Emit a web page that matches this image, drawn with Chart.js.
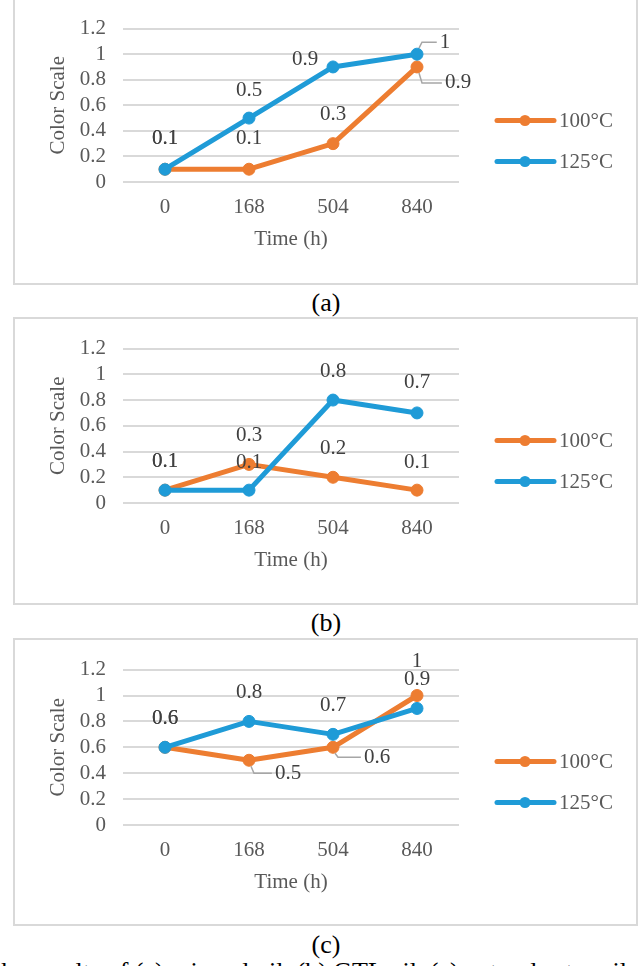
<!DOCTYPE html>
<html>
<head>
<meta charset="utf-8">
<title>Color Scale vs Time</title>
<script src="https://cdn.jsdelivr.net/npm/chart.js@4"></script>
<style>
  body { margin: 0; background: #fff; width: 643px; height: 966px; overflow: hidden; position: relative; font-family: "Liberation Serif", "Times New Roman", serif; }
  .panel { position: absolute; left: 13px; width: 625px; height: 288px; border: 2px solid #d9d9d9; box-sizing: border-box; background: #fff; }
  .panel canvas { display: block; }
  .cap { position: absolute; left: 326px; transform: translateX(-50%); font-size: 26px; line-height: 26px; color: #000; white-space: nowrap; }
  .foot { position: absolute; left: -6px; top: 959px; font-size: 26px; line-height: 26px; color: #000; white-space: nowrap; }
</style>
</head>
<body>

<div class="panel" style="top:-3px"><canvas id="chartA"></canvas></div>
<div class="cap" style="top:290px">(a)</div>

<div class="panel" style="top:317px"><canvas id="chartB"></canvas></div>
<div class="cap" style="top:610px">(b)</div>

<div class="panel" style="top:638px"><canvas id="chartC"></canvas></div>
<div class="cap" style="top:932px">(c)</div>

<div class="foot">the results of (a) mineral oil, (b) GTL oil, (c) natural ester oil</div>

<script>
// ---- DATA ----
const categories = ["0", "168", "504", "840"];
const seriesNames = ["100°C", "125°C"];
const yTickValues = [0, 0.2, 0.4, 0.6, 0.8, 1, 1.2];

// (a)
const a100 = [0.1, 0.1, 0.3, 0.9];
const a125 = [0.1, 0.5, 0.9, 1];
// (b)
const b100 = [0.1, 0.3, 0.2, 0.1];
const b125 = [0.1, 0.1, 0.8, 0.7];
// (c)
const c100 = [0.6, 0.5, 0.6, 1];
const c125 = [0.6, 0.8, 0.7, 0.9];

const COLORS = ["#ED7D31", "#1F9BD7"];
const FONT = "'Liberation Serif', 'Times New Roman', serif";

// label offsets from the point: [dx, dy, leader line]
const panels = [
  { id: "chartA", series: [a100, a125], top: 25, bottom: 183,
    labelPos: [
      [[0, -31], [0, -31], [0, -29], [41, 16, 1]],
      [[0, -31], [0, -28], [-28, -7], [28, -12, 1]]
    ] },
  { id: "chartB", series: [b100, b125], top: 28, bottom: 184,
    labelPos: [
      [[0, -29], [0, -29], [0, -29], [0, -28]],
      [[0, -29], [0, -28], [0, -29], [0, -30]]
    ] },
  { id: "chartC", series: [c100, c125], top: 28, bottom: 185,
    labelPos: [
      [[0, -29], [39, 13, 1], [44, 10, 1], [0, -34]],
      [[0, -29], [0, -29], [0, -29], [0, -29]]
    ] }
];

// value labels next to each point
const valueLabels = {
  id: "valueLabels",
  afterDatasetsDraw(chart, args, opts) {
    const ctx = chart.ctx;
    ctx.save();
    ctx.font = "21px " + FONT;
    ctx.textAlign = "center";
    ctx.textBaseline = "middle";
    chart.data.datasets.forEach((ds, di) => {
      const meta = chart.getDatasetMeta(di);
      meta.data.forEach((pt, i) => {
        const p = opts.pos[di][i];
        const text = String(ds.data[i]);
        const lx = pt.x + p[0], ly = pt.y + p[1];
        if (p[2]) {
          const w = ctx.measureText(text).width;
          ctx.strokeStyle = "#a6a6a6";
          ctx.lineWidth = 1.5;
          ctx.beginPath();
          ctx.moveTo(pt.x + 2, pt.y + Math.sign(p[1]) * 6);
          ctx.lineTo(pt.x + 5, ly);
          ctx.lineTo(lx - w / 2 - 3, ly);
          ctx.stroke();
        }
        ctx.fillStyle = "#404040";
        ctx.fillText(text, lx, ly);
      });
    });
    ctx.restore();
  }
};

// legend on the right: line with a marker in the middle
const sideLegend = {
  id: "sideLegend",
  afterDraw(chart) {
    const ctx = chart.ctx;
    const x0 = chart.chartArea.right;
    const cy = chart.height / 2;
    ctx.save();
    chart.data.datasets.forEach((ds, i) => {
      const y = cy + (i - 0.5) * 41;
      ctx.strokeStyle = ds.borderColor;
      ctx.lineWidth = 5;
      ctx.lineCap = "round";
      ctx.beginPath();
      ctx.moveTo(x0 + 38, y);
      ctx.lineTo(x0 + 95, y);
      ctx.stroke();
      ctx.fillStyle = ds.borderColor;
      ctx.beginPath();
      ctx.arc(x0 + 66, y, 5.5, 0, Math.PI * 2);
      ctx.fill();
      ctx.fillStyle = "#595959";
      ctx.font = "21px " + FONT;
      ctx.textAlign = "left";
      ctx.textBaseline = "middle";
      ctx.fillText(ds.label, x0 + 100, y + 1);
    });
    ctx.restore();
  }
};

panels.forEach(pn => {
  const ctx = document.getElementById(pn.id);

  new Chart(ctx, {
    type: "line",
    data: {
      labels: categories,
      datasets: pn.series.map((vals, i) => ({
        label: seriesNames[i],
        data: vals,
        borderColor: COLORS[i],
        backgroundColor: COLORS[i],
        borderWidth: 5,
        borderJoinStyle: "round",
        borderCapStyle: "round",
        pointRadius: 6,
        pointBackgroundColor: COLORS[i],
        pointBorderColor: COLORS[i],
        pointBorderWidth: 1,
        tension: 0,
        order: i === 0 ? 1 : 0
      }))
    },
    options: {
      responsive: true,
      maintainAspectRatio: false,
      animation: false,
      events: [],
      layout: {
        padding: { left: 20, right: 177, top: pn.top, bottom: 284 - pn.bottom - 70 }
      },
      plugins: {
        legend: { display: false },
        tooltip: { enabled: false },
        valueLabels: { pos: pn.labelPos }
      },
      scales: {
        x: {
          offset: true,
          grid: { display: false, drawTicks: false },
          border: { display: false },
          ticks: { color: "#595959", font: { family: FONT, size: 21 }, padding: 13 },
          title: { display: true, text: "Time (h)", color: "#595959", font: { family: FONT, size: 21 }, padding: 0 },
          afterFit: s => { s.height = 70; }
        },
        y: {
          min: 0,
          max: 1.2,
          afterBuildTicks: s => { s.ticks = yTickValues.map(v => ({ value: v })); },
          grid: { color: "#d9d9d9", lineWidth: 2, drawTicks: false },
          border: { display: false },
          ticks: {
            autoSkip: false,
            color: "#595959",
            font: { family: FONT, size: 21 },
            padding: 17,
            callback: v => String(parseFloat(v.toFixed(1)))
          },
          title: { display: true, text: "Color Scale", color: "#595959", font: { family: FONT, size: 21 }, padding: { top: 11, bottom: 0 } },
          afterFit: s => { s.width = 88; }
        }
      }
    },
    plugins: [valueLabels, sideLegend]
  });
});
</script>
</body>
</html>
